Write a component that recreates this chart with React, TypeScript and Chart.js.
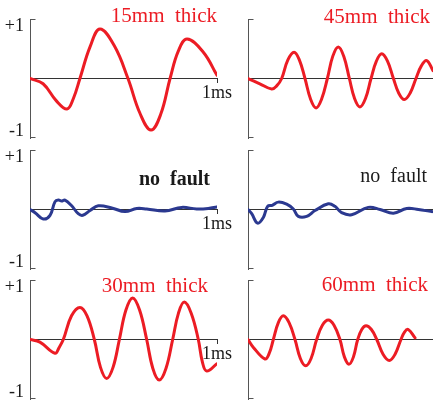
import { useEffect, useRef } from 'react';
import { Chart, registerables } from 'chart.js';
Chart.register(...registerables);

// ---- data (time in ms, normalised amplitude) ----
const t15 = [0, 0.07, 0.14, 0.198, 0.232, 0.267, 0.321, 0.374, 0.451, 0.524, 0.588, 0.647, 0.699, 0.749, 0.793, 0.84, 0.927, 1.0];
const v15 = [0, -0.1, -0.42, -0.58, -0.38, 0, 0.6, 0.94, 0.62, 0, -0.66, -0.98, -0.68, 0, 0.52, 0.75, 0.5, 0.06];

const t45 = [0, 0.064, 0.128, 0.155, 0.182, 0.215, 0.249, 0.278, 0.308, 0.338, 0.368, 0.398, 0.429, 0.458, 0.488, 0.518, 0.548, 0.576, 0.605, 0.635, 0.665, 0.694, 0.723, 0.754, 0.786, 0.815, 0.845, 0.876, 0.908, 0.937, 0.966, 1.0];
const v45 = [0, -0.1, -0.2, -0.14, 0, 0.35, 0.5, 0.35, 0, -0.39, -0.56, -0.39, 0, 0.42, 0.6, 0.42, 0, -0.38, -0.54, -0.38, 0, 0.33, 0.47, 0.33, 0, -0.28, -0.4, -0.28, 0, 0.24, 0.34, 0.15];

const tNoFaultA = [0, 0.027, 0.071, 0.107, 0.134, 0.152, 0.169, 0.187, 0.223, 0.258, 0.282, 0.321, 0.365, 0.437, 0.508, 0.571, 0.624, 0.722, 0.811, 0.891, 0.953, 1.0];
const vNoFaultA = [0, -0.06, -0.18, -0.11, 0.15, 0.18, 0.16, 0.18, 0.07, -0.08, -0.11, -0.02, 0.07, 0.03, -0.04, 0.02, 0.01, -0.03, 0.04, 0.01, 0.02, 0.05];

const tNoFaultB = [0, 0.02, 0.052, 0.083, 0.106, 0.131, 0.164, 0.209, 0.245, 0.272, 0.317, 0.362, 0.434, 0.47, 0.506, 0.56, 0.65, 0.714, 0.786, 0.858, 0.921, 0.993, 1.0];
const vNoFaultB = [0, -0.08, -0.26, -0.15, 0.06, 0.08, 0.14, 0.1, 0.01, -0.13, -0.13, -0.02, 0.11, 0.06, -0.06, -0.1, 0.04, 0, -0.07, 0.02, 0, -0.04, -0.04];

const t30 = [0, 0.053, 0.134, 0.156, 0.178, 0.222, 0.267, 0.305, 0.344, 0.377, 0.41, 0.444, 0.478, 0.513, 0.549, 0.586, 0.624, 0.657, 0.691, 0.727, 0.763, 0.794, 0.825, 0.862, 0.9, 0.922, 0.945, 1.0];
const v30 = [0, -0.05, -0.26, -0.15, 0, 0.45, 0.61, 0.45, 0, -0.53, -0.74, -0.53, 0, 0.56, 0.79, 0.56, 0, -0.55, -0.77, -0.55, 0, 0.5, 0.71, 0.5, 0, -0.43, -0.6, -0.46];

const t60 = [0, 0.029, 0.092, 0.115, 0.137, 0.164, 0.191, 0.222, 0.254, 0.283, 0.312, 0.341, 0.371, 0.402, 0.434, 0.465, 0.497, 0.521, 0.546, 0.57, 0.593, 0.615, 0.638, 0.667, 0.696, 0.73, 0.764, 0.795, 0.827, 0.846, 0.866, 0.903];
const v60 = [0, -0.15, -0.37, -0.26, 0, 0.32, 0.45, 0.32, 0, -0.36, -0.5, -0.36, 0, 0.27, 0.37, 0.27, 0, -0.33, -0.47, -0.33, 0, 0.19, 0.26, 0.19, 0, -0.28, -0.4, -0.28, 0, 0.14, 0.19, 0.03];

const panelTitles = ['15mm  thick', '45mm  thick', 'no  fault', 'no  fault', '30mm  thick', '60mm  thick'];
const yTickValues = [-1, 1];
const yTickLabels = ['-1', '+1'];
const xTickValue = 1;
const xTickLabel = '1ms';
const yLimit = 1.13;

const RED = '#ec1c24';
const BLUE = '#2b3990';

const seriesTimes = [t15, t45, tNoFaultA, tNoFaultB, t30, t60];
const seriesValues = [v15, v45, vNoFaultA, vNoFaultB, v30, v60];

// ---- layout (page coordinates) ----
const ROW_TOPS = [19, 150, 280];
const AREA_H = 119;
const PAD = 18;
const COLS = [
  { left: 0, width: 236, axisW: 30, padRight: 19, showLabels: true },
  { left: 220, width: 213, axisW: 28, padRight: 0, showLabels: false },
];
const TITLE_POS = [
  { right: 217, base: 22, color: RED, weight: 'normal', size: 21 },
  { right: 430, base: 23, color: RED, weight: 'normal', size: 21 },
  { right: 210, base: 185, color: '#1a1a1a', weight: 'bold', size: 20 },
  { right: 427, base: 182, color: '#1a1a1a', weight: 'normal', size: 20 },
  { right: 208, base: 292, color: RED, weight: 'normal', size: 21 },
  { right: 428, base: 291, color: RED, weight: 'normal', size: 21 },
];

const FONT = "'Liberation Serif', 'Times New Roman', serif";

const decorPlugin = {
  id: 'panelDecor',
  afterDraw(chart: any) {
    const o = chart.options.plugins.panelDecor;
    const { ctx, chartArea } = chart;
    ctx.save();
    // bracket arms of the y axis
    ctx.strokeStyle = '#555';
    ctx.lineWidth = 1;
    ctx.beginPath();
    const x = Math.round(chartArea.left) + 0.5;
    ctx.moveTo(x, Math.round(chartArea.top) + 0.5);
    ctx.lineTo(x + 5, Math.round(chartArea.top) + 0.5);
    ctx.moveTo(x, Math.round(chartArea.bottom) - 0.5);
    ctx.lineTo(x + 5, Math.round(chartArea.bottom) - 0.5);
    ctx.stroke();
    // title
    ctx.fillStyle = o.color;
    ctx.font = `${o.weight} ${o.size}px ${FONT}`;
    ctx.textAlign = 'right';
    ctx.textBaseline = 'alphabetic';
    ctx.fillText(o.text, o.x, o.y);
    ctx.restore();
  },
};

function Panel({ idx }: { idx: number }) {
  const ref = useRef<HTMLCanvasElement>(null);
  const row = Math.floor(idx / 2);
  const col = COLS[idx % 2];
  const top = ROW_TOPS[row] - PAD;
  const height = AREA_H + PAD * 2;
  const tp = TITLE_POS[idx];

  useEffect(() => {
    const times = seriesTimes[idx];
    const vals = seriesValues[idx];
    const isBlue = idx === 2 || idx === 3;
    const chart = new Chart(ref.current!, {
      type: 'line',
      data: {
        datasets: [
          {
            data: times.map((t, i) => ({ x: t, y: vals[i] })),
            borderColor: isBlue ? BLUE : RED,
            borderWidth: 3,
            pointRadius: 0,
            fill: false,
            tension: 0.4,
            borderCapStyle: 'round',
            borderJoinStyle: 'round',
          },
        ],
      },
      options: {
        responsive: false,
        animation: false,
        devicePixelRatio: 1,
        layout: { padding: { top: PAD, bottom: PAD, left: 0, right: col.padRight } },
        plugins: {
          legend: { display: false },
          tooltip: { enabled: false },
          panelDecor: {
            text: panelTitles[idx],
            color: tp.color,
            weight: tp.weight,
            size: tp.size,
            x: tp.right - col.left,
            y: tp.base - top,
          },
        } as any,
        scales: {
          x: {
            type: 'linear',
            min: 0,
            max: 1,
            position: { y: 0 } as any,
            afterBuildTicks: (s: any) => {
              s.ticks = [{ value: xTickValue }];
            },
            grid: {
              display: true,
              drawOnChartArea: false,
              drawTicks: col.showLabels,
              tickLength: 4,
              color: '#333',
            },
            border: { display: true, color: '#333', width: 1 },
            ticks: {
              display: col.showLabels,
              callback: () => xTickLabel,
              color: '#1a1a1a',
              font: { family: FONT, size: 18 },
              padding: 0,
              maxRotation: 0,
            },
          },
          y: {
            type: 'linear',
            min: -yLimit,
            max: yLimit,
            afterFit: (s: any) => {
              s.width = col.axisW;
            },
            afterBuildTicks: (s: any) => {
              s.ticks = yTickValues.map((v) => ({ value: v }));
            },
            grid: { display: true, drawOnChartArea: false, drawTicks: false },
            border: { display: true, color: '#555', width: 1 },
            ticks: {
              display: col.showLabels,
              callback: (v: any) => yTickLabels[yTickValues.indexOf(Number(v))],
              color: '#1a1a1a',
              font: { family: FONT, size: 18 },
              padding: 6,
            },
          },
        },
      },
      plugins: [decorPlugin],
    } as any);
    return () => chart.destroy();
  }, [idx]);

  return (
    <canvas
      ref={ref}
      width={col.width}
      height={height}
      style={{ position: 'absolute', left: col.left, top, width: col.width, height }}
    />
  );
}

export default function App() {
  return (
    <div
      style={{
        position: 'absolute',
        left: 0,
        top: 0,
        width: 433,
        height: 401,
        overflow: 'hidden',
        background: '#fff',
      }}
    >
      {[0, 1, 2, 3, 4, 5].map((i) => (
        <Panel key={i} idx={i} />
      ))}
    </div>
  );
}
